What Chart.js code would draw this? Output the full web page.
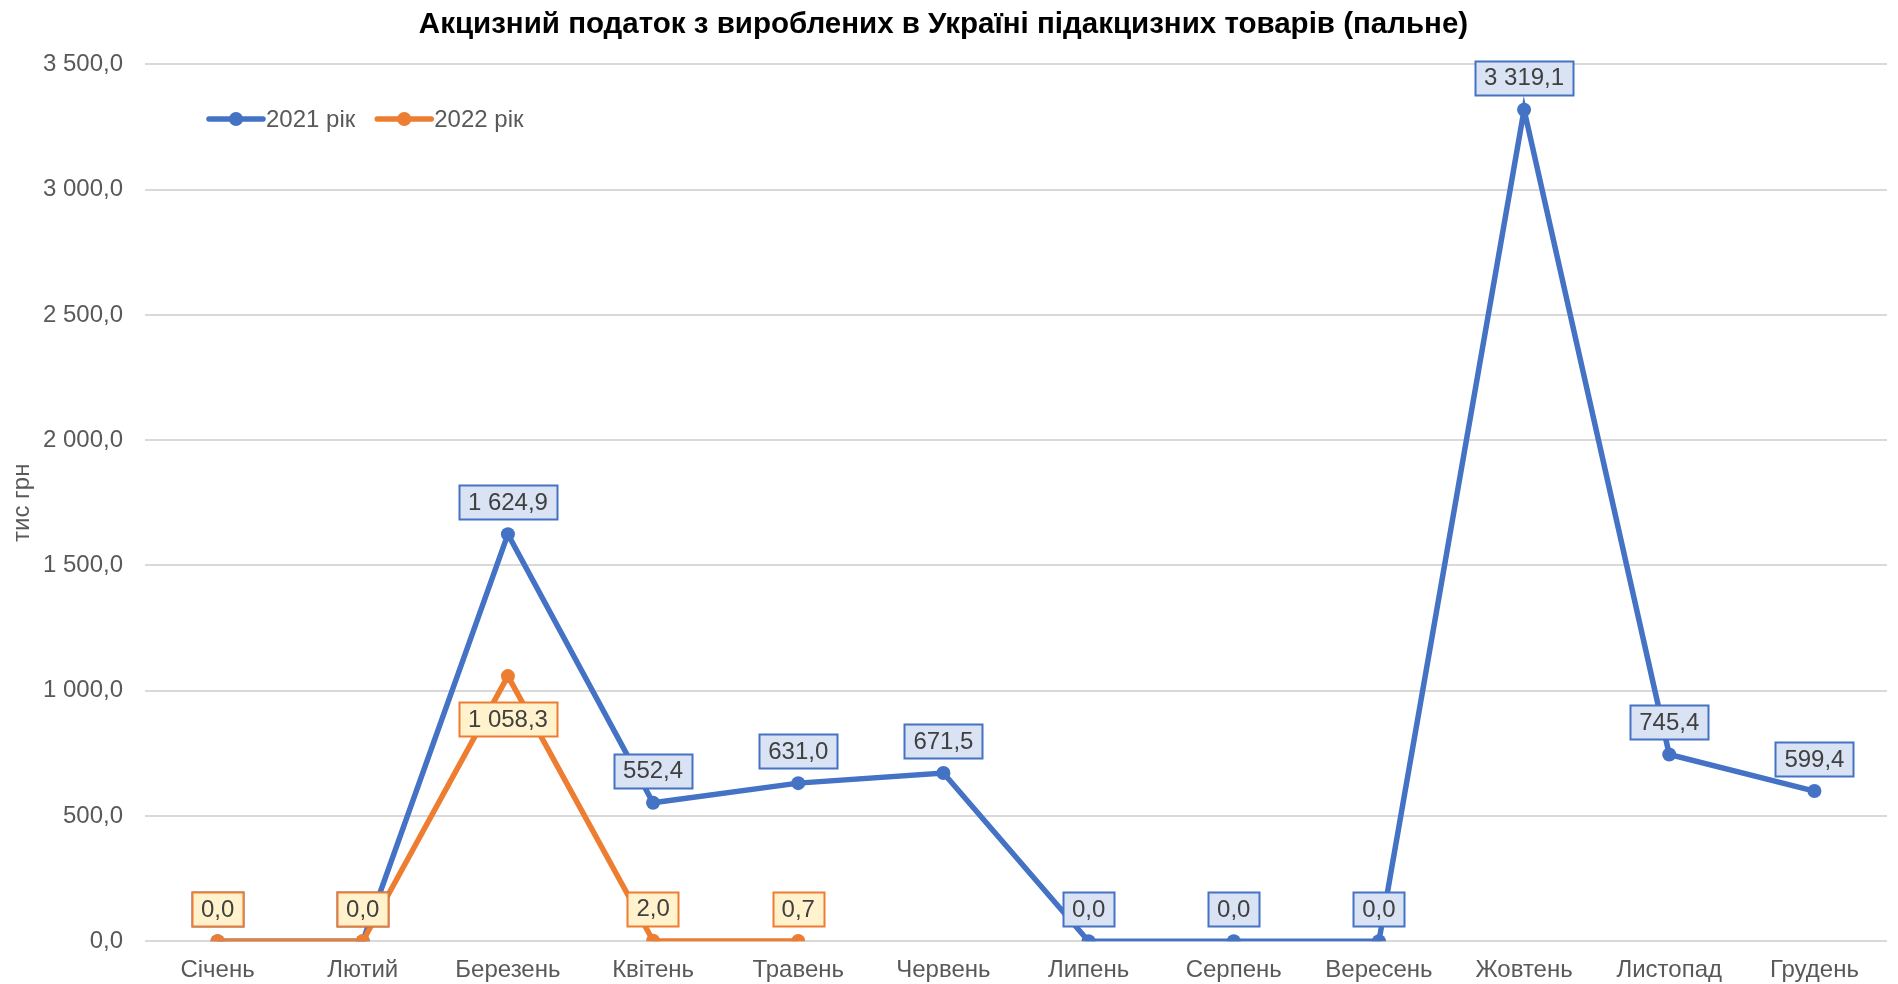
<!DOCTYPE html>
<html><head><meta charset="utf-8">
<script src="https://cdn.jsdelivr.net/npm/chart.js@4.4.0/dist/chart.umd.min.js"></script>
<style>html,body{margin:0;padding:0;background:#fff;overflow:hidden}</style>
</head><body>
<canvas id="c" width="1898" height="984"></canvas>
<script>
const months = ['Січень','Лютий','Березень','Квітень','Травень','Червень','Липень','Серпень','Вересень','Жовтень','Листопад','Грудень'];
const values2021 = [0.0, 0.0, 1624.9, 552.4, 631.0, 671.5, 0.0, 0.0, 0.0, 3319.1, 745.4, 599.4];
const values2022 = [0.0, 0.0, 1058.3, 2.0, 0.7, null, null, null, null, null, null, null];
const seriesNames = ['2021 рік', '2022 рік'];
const yMin = 0, yMax = 3500, yStep = 500;
const chartTitle = 'Акцизний податок з вироблених в Україні підакцизних товарів (пальне)';
const yAxisTitle = 'тис грн';

const FONT = '"Liberation Sans", Arial, sans-serif';
const BLUE = '#4472C4', ORANGE = '#ED7D31';

function fmt(v){
  const s = Math.abs(v).toFixed(1).split('.');
  const int = s[0].replace(/\B(?=(\d{3})+(?!\d))/g, ' ');
  return (v < 0 ? '-' : '') + int + ',' + s[1];
}

const boxLabels = {
  id: 'boxLabels',
  afterDatasetsDraw(chart, args, opts){
    const ctx = chart.ctx;
    ctx.save();
    ctx.font = '24px ' + FONT;
    ctx.textAlign = 'center';
    ctx.textBaseline = 'middle';
    chart.data.datasets.forEach((ds, i) => {
      const meta = chart.getDatasetMeta(i);
      const st = opts.styles[i];
      meta.data.forEach((pt, j) => {
        const v = ds.data[j];
        if (v === null || v === undefined) return;
        const txt = fmt(v);
        const w = ctx.measureText(txt).width + 18;
        const h = 34;
        const below = (opts.below[i] || []).includes(j);
        const cy = below ? pt.y + 43 : pt.y - 32;
        const x0 = Math.round(pt.x - w/2) + 0.5, y0 = Math.round(cy - h/2) + 0.5;
        ctx.fillStyle = st.fill;
        ctx.fillRect(x0, y0, Math.round(w), h);
        ctx.lineWidth = 2;
        ctx.strokeStyle = st.border;
        ctx.strokeRect(x0, y0, Math.round(w), h);
        ctx.fillStyle = '#404040';
        ctx.fillText(txt, pt.x, cy + 1);
      });
    });
    ctx.restore();
  }
};

const customLegend = {
  id: 'customLegend',
  afterDraw(chart, args, opts){
    const ctx = chart.ctx;
    ctx.save();
    ctx.font = '24px ' + FONT;
    ctx.textBaseline = 'middle';
    let x = opts.x;
    const y = opts.y;
    chart.data.datasets.forEach((ds) => {
      ctx.strokeStyle = ds.borderColor;
      ctx.lineWidth = 5.5;
      ctx.lineCap = 'round';
      ctx.beginPath(); ctx.moveTo(x, y); ctx.lineTo(x + 54, y); ctx.stroke();
      ctx.fillStyle = ds.borderColor;
      ctx.beginPath(); ctx.arc(x + 27, y, 7, 0, Math.PI*2); ctx.fill();
      ctx.fillStyle = '#595959';
      ctx.fillText(ds.label, x + 57, y + 1);
      x += 57 + ctx.measureText(ds.label).width + 22;
    });
    ctx.restore();
  }
};

new Chart(document.getElementById('c'), {
  type: 'line',
  data: {
    labels: months,
    datasets: [
      { label: seriesNames[0], data: values2021, borderColor: BLUE, backgroundColor: BLUE,
        borderWidth: 5.5, pointRadius: 7, pointBorderWidth: 0, pointBackgroundColor: BLUE, order: 1, tension: 0 },
      { label: seriesNames[1], data: values2022, borderColor: ORANGE, backgroundColor: ORANGE,
        borderWidth: 5.5, pointRadius: 7, pointBorderWidth: 0, pointBackgroundColor: ORANGE, order: 0, tension: 0, spanGaps: false }
    ]
  },
  options: {
    responsive: false,
    animation: false,
    devicePixelRatio: 1,
    layout: { padding: { left: 0, right: 11, top: 0, bottom: -16 } },
    plugins: {
      legend: { display: false },
      tooltip: { enabled: false },
      title: { display: true, text: chartTitle, color: '#000',
        font: { family: FONT, size: 29.5, weight: 'bold', lineHeight: 1.2 }, padding: { top: 7, bottom: 22 } },
      boxLabels: {
        styles: [ { fill: '#DAE3F3', border: BLUE }, { fill: '#FFF2CC', border: ORANGE } ],
        below: { 1: [2] }
      },
      customLegend: { x: 209, y: 119 }
    },
    scales: {
      x: {
        offset: true,
        grid: { display: false, drawTicks: false },
        border: { display: false },
        ticks: { color: '#595959', font: { family: FONT, size: 24 }, padding: 15, maxRotation: 0 }
      },
      y: {
        min: yMin, max: yMax,
        ticks: { stepSize: yStep, color: '#595959', font: { family: FONT, size: 24 }, padding: 22, callback: v => fmt(v) },
        grid: { color: '#D9D9D9', lineWidth: 2, drawTicks: false },
        border: { display: false },
        title: { display: true, text: yAxisTitle, color: '#595959', font: { family: FONT, size: 24 }, padding: { top: 8, bottom: 0 } },
        afterFit: s => { s.width = 145; }
      }
    }
  },
  plugins: [boxLabels, customLegend]
});
</script>
</body></html>
